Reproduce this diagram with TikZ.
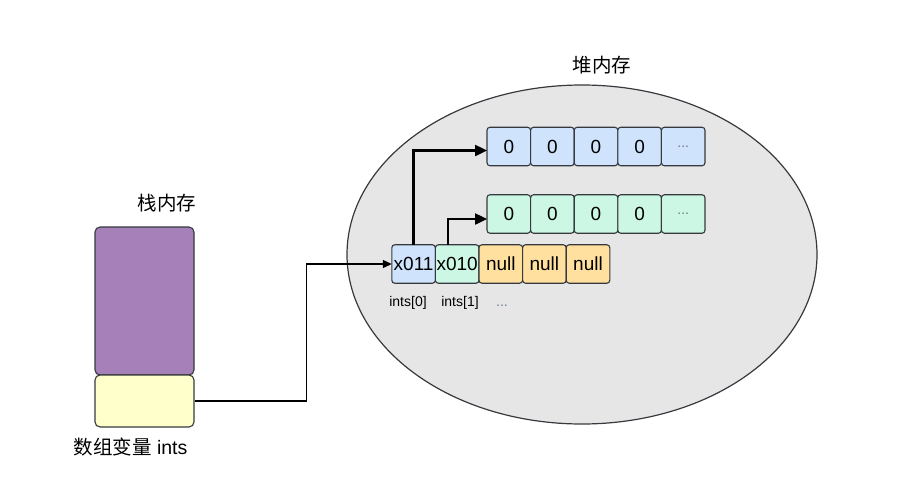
\documentclass[tikz,border=0pt]{standalone}
\usepackage{fontspec}
\setmainfont{Liberation Sans}
\newfontfamily\cjk{Noto Sans CJK SC}
\usetikzlibrary{shapes.geometric,arrows.meta,calc}
\definecolor{bluefill}{HTML}{CFE3FC}
\definecolor{greenfill}{HTML}{CCF7E4}
\definecolor{orangefill}{HTML}{FFE09E}
\definecolor{purplefill}{HTML}{A680B8}
\definecolor{yellowfill}{HTML}{FFFFCC}
\definecolor{heapfill}{HTML}{E6E6E6}
\definecolor{edge}{HTML}{36393D}
\definecolor{dotcol}{HTML}{6C7A8C}
\tikzset{
  cell/.style={draw=edge, line width=1.1pt, rounded corners=3pt, minimum width=43.6pt, minimum height=38.5pt, inner sep=0pt, outer sep=0pt, font=\fontsize{19}{21}\selectfont},
  bcell/.style={cell, fill=bluefill},
  gcell/.style={cell, fill=greenfill},
  ocell/.style={cell, fill=orangefill},
  lbl/.style={font=\fontsize{19.5}{22}\selectfont, inner sep=0pt},
  small/.style={font=\fontsize{14}{16}\selectfont, inner sep=0pt},
  thickarrow/.style={line width=2.4pt, -{Triangle[length=12pt,width=11pt]}},
  thinarrow/.style={line width=1.2pt, -{Triangle[length=9pt,width=8pt]}}
}
\begin{document}
\begin{tikzpicture}[x=1pt,y=-1pt]
\useasboundingbox (0,0) rectangle (913,488);
% heap
\node[ellipse, draw=edge, line width=1.2pt, fill=heapfill, minimum width=470pt, minimum height=339pt, inner sep=0pt] (heap) at (582,254.5) {};
\node[lbl] (heaplbl) at (602,65) {\cjk 堆内存};
% blue row
\node[bcell] (b1) at (508.8,146.5) {0};
\node[bcell] (b2) at (552.4,146.5) {0};
\node[bcell] (b3) at (596.0,146.5) {0};
\node[bcell] (b4) at (639.6,146.5) {0};
\node[bcell] (b5) at (683.2,146.5) {\fontsize{14}{16}\selectfont\color{dotcol}...};
% green row
\node[gcell] (g1) at (508.8,214) {0};
\node[gcell] (g2) at (552.4,214) {0};
\node[gcell] (g3) at (596.0,214) {0};
\node[gcell] (g4) at (639.6,214) {0};
\node[gcell] (g5) at (683.2,214) {\fontsize{14}{16}\selectfont\color{dotcol}...};
% ints row
\node[bcell] (x011) at (413.6,264) {x011};
\node[gcell] (x010) at (457.2,264) {x010};
\node[ocell] (n1) at (500.8,264) {null};
\node[ocell] (n2) at (544.4,264) {null};
\node[ocell] (n3) at (588.0,264) {null};
\node[small] (i0) at (408,303) {ints[0]};
\node[small] (i1) at (460,303) {ints[1]};
\node[small, text=dotcol] (i2) at (502,306) {...};
% arrows
\draw[thickarrow] (x011.north) |- ([yshift=-4pt]b1.west);
\draw[thickarrow] ([xshift=-9pt]x010.north) |- ([yshift=-5pt]g1.west);
% stack
\node[draw=edge, line width=1.1pt, fill=purplefill, rounded corners=5pt, minimum width=99pt, minimum height=148pt, inner sep=0pt] (stack) at (144.5,301) {};
\node[draw=edge, line width=1.1pt, fill=yellowfill, rounded corners=5pt, minimum width=99pt, minimum height=52pt, inner sep=0pt] (yel) at (144.5,401) {};
\node[lbl] (stacklbl) at (167,203) {\cjk 栈内存};
\node[lbl] (varlbl) at (130.5,447) {{\cjk 数组变量} ints};
% connector
\draw[thinarrow] (yel.east) -- ++(112,0) |- (x011.west);
\end{tikzpicture}
\end{document}
